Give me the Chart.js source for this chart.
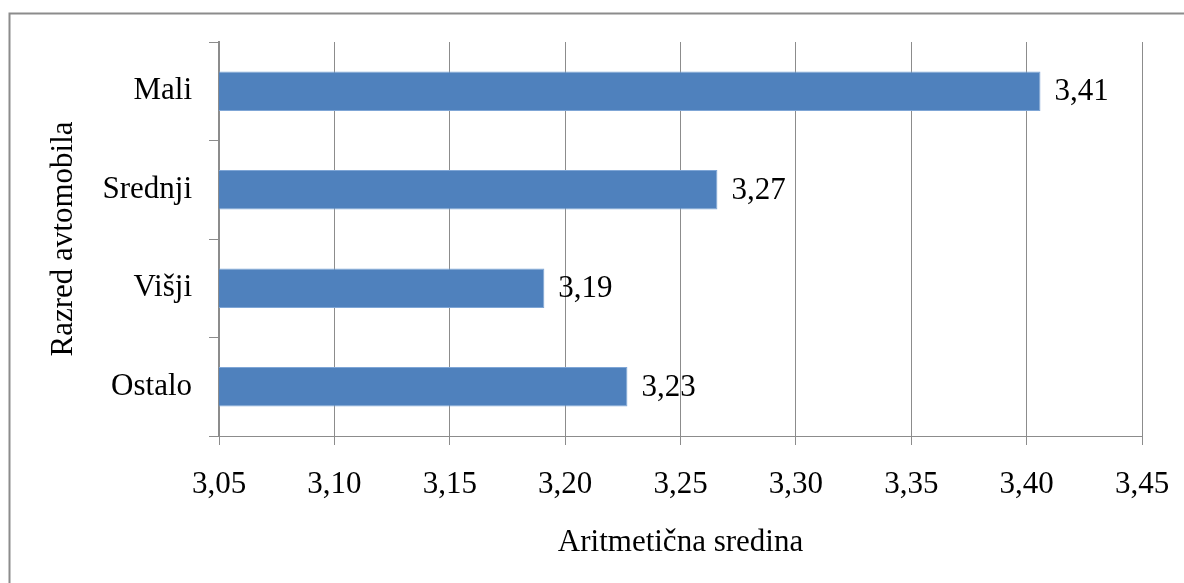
<!DOCTYPE html>
<html>
<head>
<meta charset="utf-8">
<script src="https://cdn.jsdelivr.net/npm/chart.js@4"></script>
<style>
  html, body { margin: 0; padding: 0; background: #ffffff; }
  canvas { display: block; }
</style>
</head>
<body>
<canvas id="chart" width="1184" height="583"></canvas>
<script>
// Razred avtomobila vs. aritmetična sredina
const categories = ['Mali', 'Srednji', 'Višji', 'Ostalo'];
const means = [3.406, 3.266, 3.191, 3.227];
const axisMin = 3.05;
const axisMax = 3.45;
const axisStep = 0.05;
const yTitle = 'Razred avtomobila';
const xTitle = 'Aritmetična sredina';

const FONT = '"Liberation Serif", "Times New Roman", serif';
const fmt = v => Number(v).toFixed(2).replace('.', ',');

// outer frame of the chart
const framePlugin = {
  id: 'frame',
  beforeDraw(chart) {
    const ctx = chart.ctx;
    ctx.save();
    ctx.fillStyle = '#ffffff';
    ctx.fillRect(0, 0, chart.width, chart.height);
    ctx.strokeStyle = '#8c8c8c';
    ctx.lineWidth = 2;
    ctx.beginPath();
    ctx.moveTo(9.5, chart.height + 2);
    ctx.lineTo(9.5, 13.5);
    ctx.lineTo(chart.width + 2, 13.5);
    ctx.stroke();
    ctx.restore();
  }
};

// value labels at the end of each bar
const valueLabels = {
  id: 'valueLabels',
  afterDatasetsDraw(chart) {
    const ctx = chart.ctx;
    const meta = chart.getDatasetMeta(0);
    ctx.save();
    ctx.font = '31px ' + FONT;
    ctx.fillStyle = '#000000';
    ctx.textAlign = 'left';
    ctx.textBaseline = 'middle';
    meta.data.forEach((bar, i) => {
      ctx.fillText(fmt(chart.data.datasets[0].data[i]), bar.x + 14, bar.y + 1);
    });
    ctx.restore();
  }
};

new Chart(document.getElementById('chart'), {
  type: 'bar',
  data: {
    labels: categories,
    datasets: [{
      data: means,
      backgroundColor: '#4f81bd',
      borderColor: '#7fa6d6',
      borderWidth: 1,
      borderSkipped: false,
      categoryPercentage: 0.4,
      barPercentage: 1.0
    }]
  },
  options: {
    indexAxis: 'y',
    responsive: false,
    animation: false,
    devicePixelRatio: 1,
    layout: { padding: { top: 42, right: 42, left: 0, bottom: 0 } },
    plugins: {
      legend: { display: false },
      tooltip: { enabled: false }
    },
    scales: {
      x: {
        type: 'linear',
        min: axisMin,
        max: axisMax,
        afterFit(scale) {
          scale.height = 147;
          scale.paddingLeft = 0;
          scale.paddingRight = 0;
        },
        ticks: {
          stepSize: axisStep,
          color: '#000000',
          font: { family: FONT, size: 31 },
          padding: 21,
          maxRotation: 0,
          callback: v => fmt(v)
        },
        grid: {
          color: '#8c8c8c',
          lineWidth: 1,
          tickLength: 9,
          drawTicks: true
        },
        border: { color: '#8c8c8c', width: 1 },
        title: {
          display: true,
          text: xTitle,
          color: '#000000',
          font: { family: FONT, size: 31 },
          padding: { top: 0, bottom: 22 }
        }
      },
      y: {
        type: 'category',
        afterFit(scale) { scale.width = 219; },
        ticks: {
          color: '#000000',
          font: { family: FONT, size: 31 },
          padding: 17
        },
        grid: {
          offset: true,
          drawOnChartArea: false,
          drawTicks: true,
          tickLength: 10,
          color: '#8c8c8c'
        },
        border: { color: '#8c8c8c', width: 2 },
        title: {
          display: true,
          text: yTitle,
          color: '#000000',
          font: { family: FONT, size: 31 },
          padding: { top: 45, bottom: 0 }
        }
      }
    }
  },
  plugins: [framePlugin, valueLabels]
});
</script>
</body>
</html>
